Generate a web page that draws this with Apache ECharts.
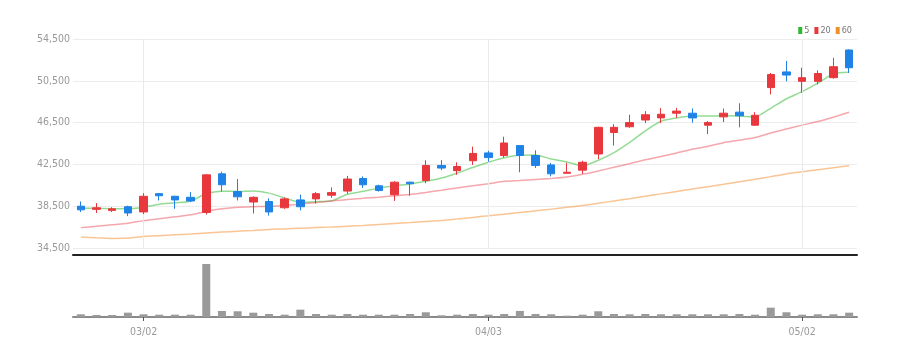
<!DOCTYPE html>
<html>
<head>
<meta charset="utf-8">
<script src="https://cdn.jsdelivr.net/npm/echarts@6/dist/echarts.min.js"></script>
<style>
html,body{margin:0;padding:0;background:#fff;}
#c{width:905px;height:356px;}
</style>
</head>
<body>
<div id="c"></div>
<script>
var dates = ['02/23','02/24','02/27','02/28','03/02','03/03','03/06','03/07','03/08','03/09',
 '03/10','03/13','03/14','03/15','03/16','03/17','03/20','03/21','03/22','03/23',
 '03/24','03/27','03/28','03/29','03/30','03/31','04/03','04/04','04/05','04/06',
 '04/07','04/10','04/11','04/12','04/13','04/14','04/17','04/18','04/19','04/20',
 '04/21','04/24','04/25','04/26','04/27','04/28','05/02','05/03','05/04','05/08'];
var labelDates = ['03/02','04/03','05/02'];
var opens  = [38500,38200,38100,38450,37950,39700,39450,39350,37900,41600,
 39900,38900,38950,38350,39100,39200,39550,39950,41150,40450,
 39600,40800,40950,42400,41900,42850,43600,43350,44300,43350,
 42450,41650,41950,43500,45550,46100,46750,46950,47400,47400,
 46250,47050,47500,46250,49850,51350,50450,50450,50800,53450];
var closes = [38150,38350,38250,37850,39450,39500,39100,39000,41500,40550,
 39400,39350,37950,39200,38450,39700,39800,41100,40550,40000,
 40800,40650,42400,42150,42300,43550,43150,44550,43350,42400,
 41600,41750,42700,46050,46050,46500,47250,47300,47600,46950,
 46500,47400,47150,47200,51100,51050,50800,51200,51850,51750];
var lows   = [37950,37850,37950,37550,37750,39050,38250,38900,37700,39900,
 39050,37800,37600,38250,38100,38750,39300,39700,40250,39900,
 39000,39500,40700,41950,41500,42450,42750,43150,41750,42150,
 41350,41600,41600,43000,44300,46000,46450,46450,46950,46500,
 45400,46550,46050,46200,49200,50450,49350,50150,50700,51250];
var highs  = [38950,38800,38400,38550,39750,39750,39500,39850,41550,41800,
 41100,39450,39250,39350,39600,39850,40300,41400,41350,40550,
 40900,40850,42900,42900,42700,44200,43800,45150,44300,43850,
 42650,42650,42850,46100,46350,47250,47600,47900,47900,47850,
 46650,47850,48350,47500,51250,52400,51750,51500,52700,53500];
var volumes = [270,200,200,430,270,230,230,230,5270,600,
 570,430,300,230,730,300,230,300,230,230,
 230,300,470,170,230,300,230,300,600,300,
 270,130,230,570,300,270,300,270,270,270,
 270,270,300,230,930,470,230,270,270,430];
var ma5  = [38300,38300,38250,38250,38410,38680,38830,38980,39710,39930,
 39910,39960,39750,39290,38870,38930,39020,39650,39920,40230,
 40450,40620,40880,41200,41660,42210,42710,43140,43380,43400,
 43010,42730,42360,42900,43630,44610,45710,46630,46940,47120,
 47120,47150,47120,47040,47870,48780,49460,50270,51190,51320];
var ma20 = [36450,36580,36720,36860,37120,37300,37480,37680,38000,38250,
 38400,38450,38480,38560,38700,38850,39000,39150,39250,39360,
 39490,39610,39815,40030,40250,40450,40650,40880,40960,41050,
 41150,41290,41550,41870,42230,42570,42940,43250,43600,43950,
 44240,44580,44810,45070,45500,45880,46260,46600,47020,47490];
var ma60 = [35550,35470,35420,35450,35600,35680,35760,35840,35930,36020,
 36100,36180,36280,36330,36400,36450,36500,36580,36660,36750,
 36840,36930,37030,37140,37280,37430,37580,37740,37900,38060,
 38220,38390,38570,38780,39000,39220,39450,39680,39910,40140,
 40370,40600,40840,41080,41330,41590,41790,41990,42190,42380];
var yTicks = {min:34500, max:54500, step:4000};

var candleData = opens.map(function(o,i){ return [o, closes[i], lows[i], highs[i]]; });
var volData = volumes.map(function(v){ return v*1000; });
var FONT = "'Liberation Sans Narrow','DejaVu Sans Condensed','Roboto',sans-serif";
var RED = '#e8383d', BLUE = '#1e82e6';
var isLabel = function(i, v){ return labelDates.indexOf(v) >= 0; };

var chart = echarts.init(document.getElementById('c'), null, {renderer:'canvas'});
chart.setOption({
  animation:false,
  backgroundColor:'#fff',
  legend:{
    data:['5','20','60'], right:48, top:21, icon:'rect', itemWidth:4, itemHeight:7, itemGap:5,
    textStyle:{color:'#777', fontSize:9, fontFamily:FONT, padding:[0,0,0,-3]},
    selectedMode:false
  },
  grid:[
    {left:73, right:48, top:39, height:209},
    {left:73, right:48, top:264, height:53}
  ],
  xAxis:[
    {type:'category', data:dates, gridIndex:0, boundaryGap:true, offset:7,
     axisLine:{show:true, lineStyle:{color:'#222', width:2}},
     axisTick:{show:false}, axisLabel:{show:false}, splitLine:{show:false}},
    {type:'category', data:dates, gridIndex:1, boundaryGap:true,
     axisLine:{show:true, lineStyle:{color:'#8a8a8a', width:2}},
     axisTick:{show:true, alignWithLabel:true, interval:isLabel, length:4, lineStyle:{color:'#555'}},
     axisLabel:{show:true, interval:isLabel, color:'#999', fontSize:10.5, fontFamily:FONT, margin:10},
     splitLine:{show:false}}
  ],
  yAxis:[
    {type:'value', gridIndex:0, min:yTicks.min, max:yTicks.max, interval:yTicks.step, position:'left',
     axisLine:{show:false}, axisTick:{show:false},
     axisLabel:{color:'#999', fontSize:10.5, fontFamily:FONT, margin:3,
       formatter:function(v){ return v.toLocaleString('en-US'); }},
     splitLine:{show:true, lineStyle:{color:'#ececec', width:1}}},
    {type:'value', gridIndex:1, min:0, max:'dataMax',
     axisLine:{show:false}, axisTick:{show:false}, axisLabel:{show:false}, splitLine:{show:false}}
  ],
  series:[
    {name:'candle', type:'candlestick', xAxisIndex:0, yAxisIndex:0, data:candleData, barWidth:8,
     itemStyle:{color:RED, color0:BLUE, borderColor:RED, borderColor0:BLUE, borderWidth:1},
     markLine:{silent:true, symbol:'none', label:{show:false},
       lineStyle:{color:'#eaeaea', width:1, type:'solid'},
       data:labelDates.map(function(d){ return {xAxis:d}; })},
     z:5},
    {name:'5', type:'line', xAxisIndex:0, yAxisIndex:0, data:ma5, symbol:'none', smooth:0.2,
     itemStyle:{color:'#2fb82f'}, lineStyle:{color:'rgba(60,190,60,0.55)', width:1.5}, z:3},
    {name:'20', type:'line', xAxisIndex:0, yAxisIndex:0, data:ma20, symbol:'none', smooth:0.2,
     itemStyle:{color:'#e8383d'}, lineStyle:{color:'rgba(235,80,90,0.5)', width:1.5}, z:3},
    {name:'60', type:'line', xAxisIndex:0, yAxisIndex:0, data:ma60, symbol:'none', smooth:0.2,
     itemStyle:{color:'#f0902a'}, lineStyle:{color:'rgba(245,150,60,0.55)', width:1.5}, z:3},
    {name:'vol', type:'bar', xAxisIndex:1, yAxisIndex:1, data:volData, barWidth:8,
     itemStyle:{color:'#9a9a9a'}}
  ]
});
</script>
</body>
</html>
